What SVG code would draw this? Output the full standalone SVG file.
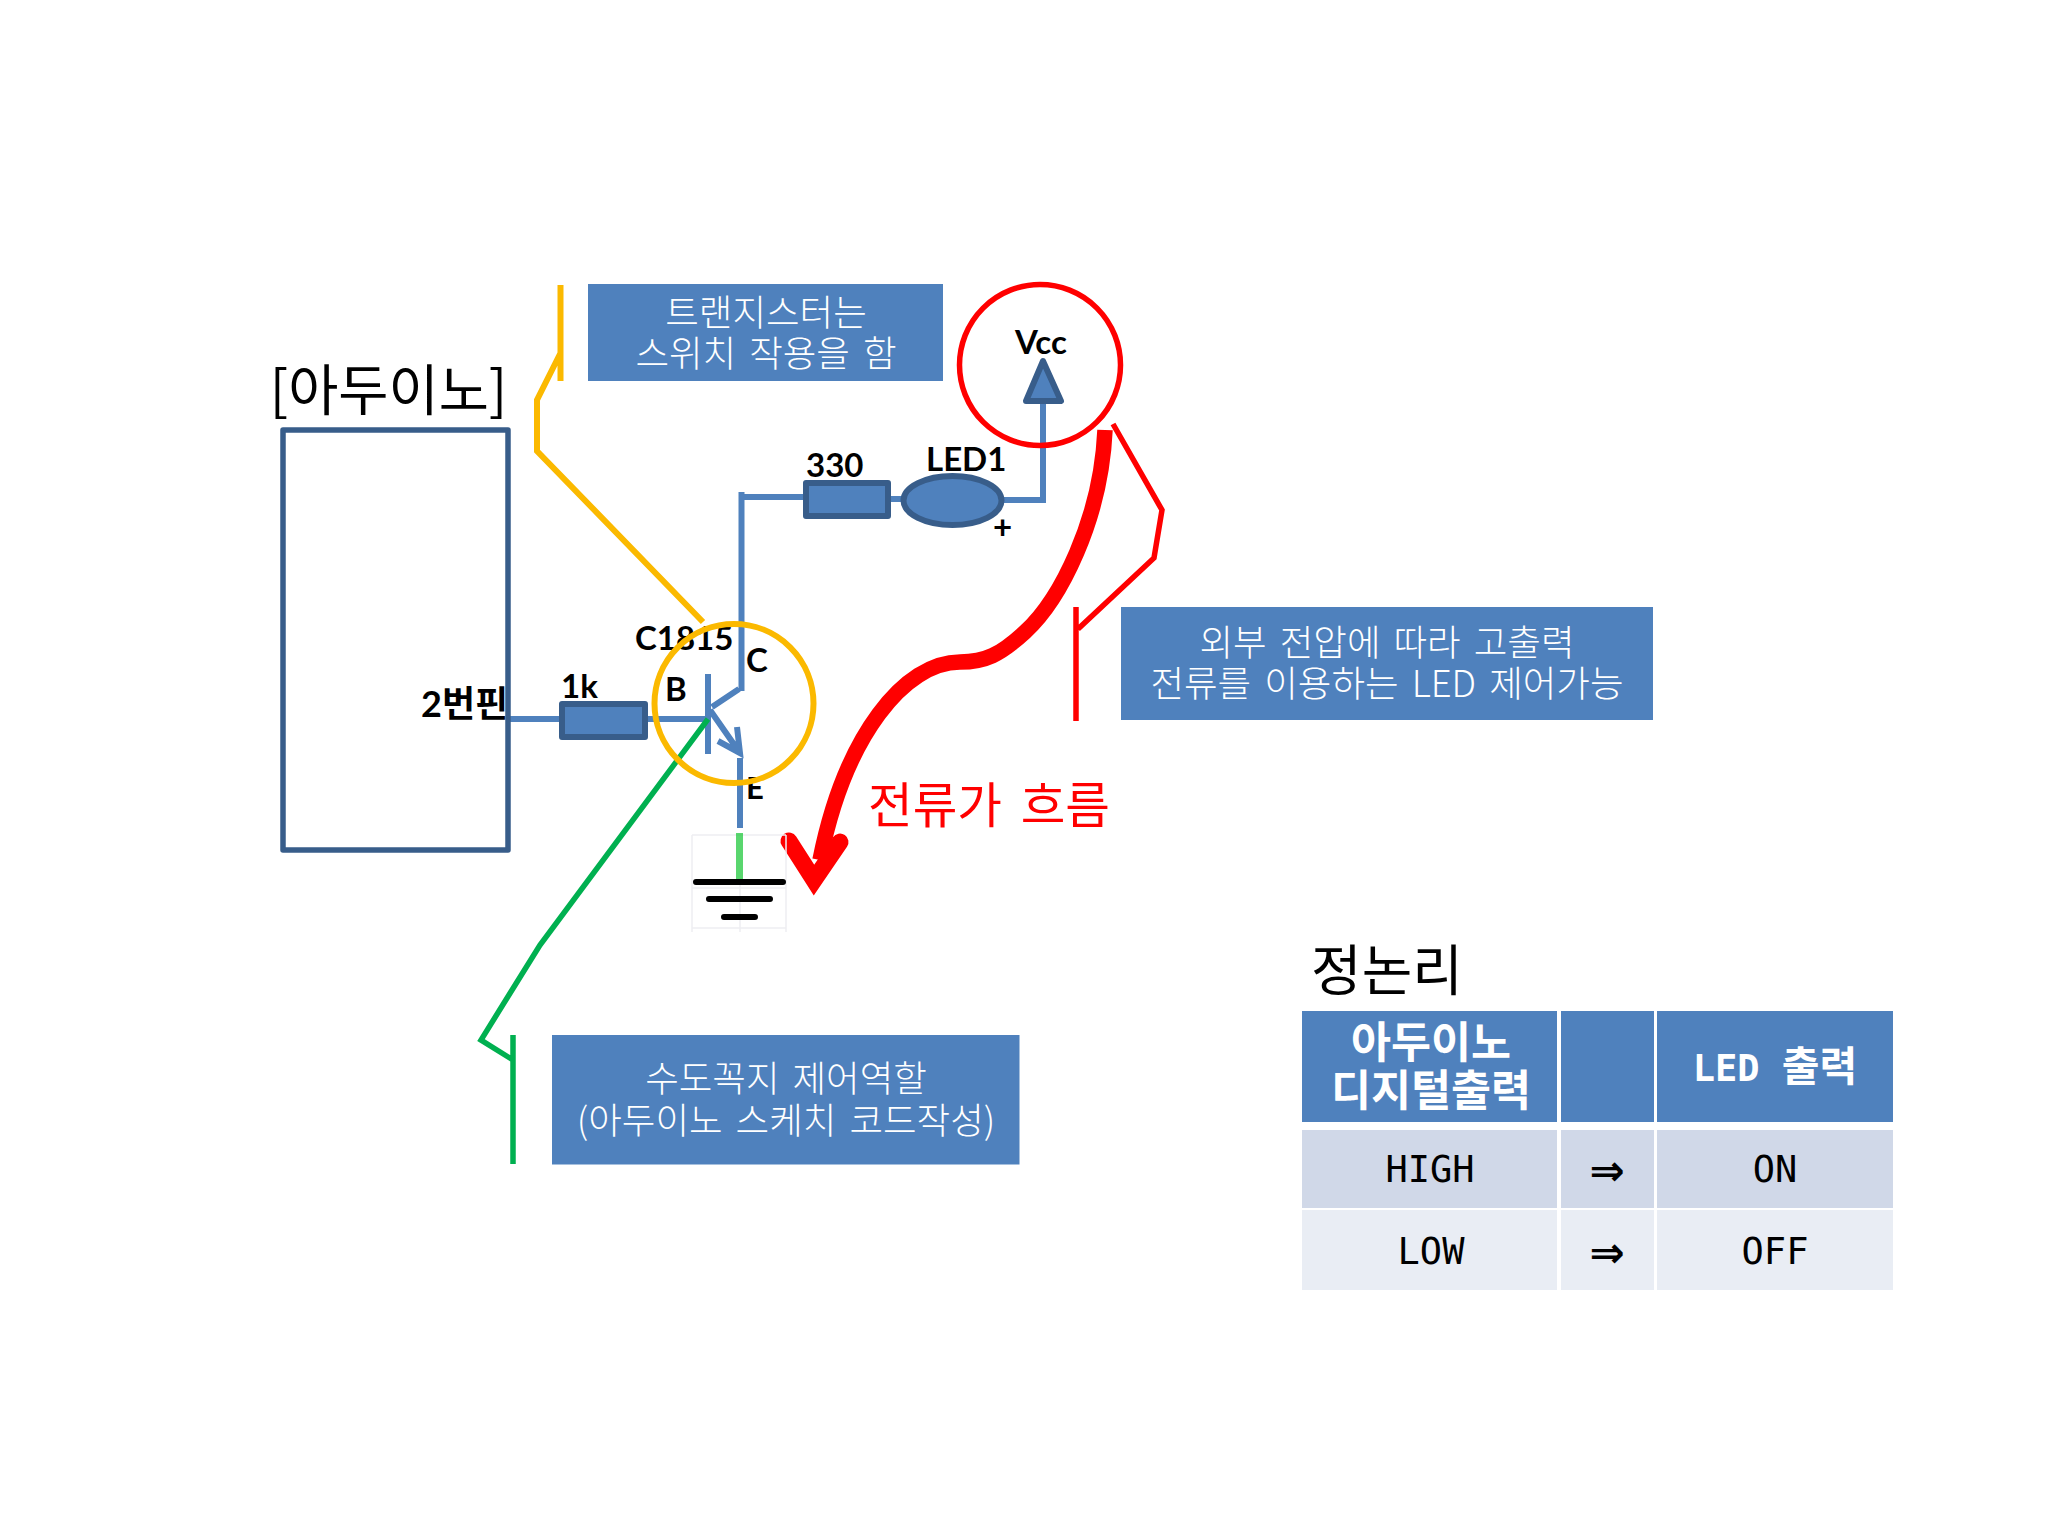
<svg xmlns="http://www.w3.org/2000/svg" width="2048" height="1536" viewBox="0 0 2048 1536">
<style>
.ko{font-family:"Noto Sans CJK KR","Noto Sans",sans-serif}
.box{fill:#4f81bd}
.boxt{font-family:"Noto Sans CJK KR",sans-serif;font-size:36.500px;fill:#fff;text-anchor:middle;font-weight:300;word-spacing:5px}
.lab{font-family:Lato,"Noto Sans CJK KR",sans-serif;font-weight:700;font-size:33px;fill:#000}
.wire{fill:none;stroke:#4f81bd;stroke-width:6}
.part{fill:#4f81bd;stroke:#385d8a;stroke-width:6;stroke-linejoin:round}
.y{fill:none;stroke:#fbb900;stroke-width:6}
.r{fill:none;stroke:#f00;stroke-width:5.500}
.g{fill:none;stroke:#00b050;stroke-width:5.500}
.hd{fill:#4f81bd}.r1{fill:#d0d8e8}.r2{fill:#e9edf4}
.tb{font-family:"DejaVu Sans Mono","Noto Sans CJK KR",monospace;font-size:37px;fill:#000;text-anchor:middle}
.ar{font-family:"DejaVu Sans",sans-serif;font-weight:700;font-size:42px;fill:#000;text-anchor:middle}
.th{font-family:"Noto Sans CJK KR",sans-serif;font-weight:700;font-size:43.500px;fill:#fff;text-anchor:middle}
.gnd{stroke:#000;stroke-width:6;stroke-linecap:round;fill:none}
</style>
<rect width="2048" height="1536" fill="#fff"/>
<g id="connectors">
<path class="wire" d="M510 719H708M708 674V754M712 707L739 689M741.500 691V492M739 497H806M887 499H905M1002 500H1040M1043 503V400"/>
<path class="wire" d="M710 710L740 753M718 741L740 753L737 727"/>
<path class="wire" d="M740 758V828"/>
<path class="y" d="M560.500 285V381M560.500 353L537 400V451L703 622"/>
<path class="r" d="M1113 424L1162 510L1154 558L1078 629M1076 607V721"/>
<path class="g" d="M513 1035V1164M513 1060L481 1040L540 945L708 719"/>
<path fill="none" stroke="#f00" stroke-width="15.500" d="M1105 430C1101 520 1060 600 1025 632C1000 655 985 662 960 662C905 662 845 735 820 860"/>
<path fill="none" stroke="#f00" stroke-width="17" stroke-linecap="round" stroke-linejoin="miter" stroke-miterlimit="8" d="M789 841L814 880L840 842"/>
</g>
<g id="arduino">
<rect x="283" y="430" width="225" height="420" fill="#fff" stroke="#385d8a" stroke-width="5.500" stroke-linejoin="round"/>
<text class="ko" x="388.500" y="410" font-size="54.500" text-anchor="middle" fill="#000">[아두이노]</text>
<text class="lab" x="421" y="717" style="font-size:36px">2번핀</text>
</g>
<g id="r1k">
<rect class="part" x="562" y="704" width="83" height="33"/>
<text class="lab" x="561" y="698">1k</text>
</g>
<g id="transistor">
<text class="lab" x="635" y="650">C1815</text>
<text class="lab" x="746" y="672">C</text>
<text class="lab" x="665" y="701">B</text>
<text class="lab" x="746" y="799" style="font-size:31px">E</text>
<circle class="y" cx="734" cy="703.500" r="79.500"/>
</g>
<g id="ground">
<path fill="none" stroke="#eeeef2" stroke-width="1.500" d="M692 835H786M692 888H786M692 928H786M692 835V932M740 880V932M786 835V932"/>
<path fill="none" stroke="#00c020" stroke-opacity=".65" stroke-width="7" d="M739.500 833V882"/>
<path class="gnd" d="M696 882H783M709 899H770M724 917H755"/>
</g>
<g id="r330">
<rect class="part" x="806" y="483" width="82" height="33"/>
<text class="lab" x="806" y="477">330</text>
</g>
<g id="led1">
<ellipse class="part" cx="952.500" cy="500.500" rx="49" ry="24.500"/>
<text class="lab" x="926" y="471">LED1</text>
<text class="lab" x="993" y="539">+</text>
</g>
<g id="vcc">
<circle class="r" cx="1040" cy="365" r="80.500"/>
<path class="part" d="M1043 361L1061 401H1026Z"/>
<text class="lab" x="1015" y="354">Vcc</text>
</g>
<g id="note-switch">
<rect class="box" x="588" y="284" width="355" height="97"/>
<text class="boxt" x="766" y="326">트랜지스터는</text>
<text class="boxt" x="766" y="367">스위치 작용을 함</text>
</g>
<g id="note-led">
<rect class="box" x="1121" y="607" width="532" height="113"/>
<text class="boxt" x="1387" y="656">외부 전압에 따라 고출력</text>
<text class="boxt" x="1387" y="697">전류를 이용하는 LED 제어가능</text>
</g>
<g id="note-tap">
<rect class="box" x="552" y="1035" width="467.500" height="129.500"/>
<text class="boxt" x="786" y="1092">수도꼭지 제어역할</text>
<text class="boxt" x="786" y="1134">(아두이노 스케치 코드작성)</text>
</g>
<g id="current-label">
<text class="ko" x="989" y="823" font-size="48.500" text-anchor="middle" fill="#f00" word-spacing="8">전류가 흐름</text>
</g>
<g id="logic-table">
<text class="ko" x="1387" y="990" font-size="55" text-anchor="middle" fill="#000">정논리</text>
<rect class="hd" x="1302" y="1011" width="255" height="111"/>
<rect class="hd" x="1561" y="1011" width="93" height="111"/>
<rect class="hd" x="1657" y="1011" width="236" height="111"/>
<rect class="r1" x="1302" y="1130" width="255" height="78"/>
<rect class="r1" x="1561" y="1130" width="93" height="78"/>
<rect class="r1" x="1657" y="1130" width="236" height="78"/>
<rect class="r2" x="1302" y="1210" width="255" height="80"/>
<rect class="r2" x="1561" y="1210" width="93" height="80"/>
<rect class="r2" x="1657" y="1210" width="236" height="80"/>
<text class="th" x="1431" y="1058">아두이노</text>
<text class="th" x="1431" y="1106">디지털출력</text>
<text class="th" x="1775" y="1081"><tspan style="font-family:'DejaVu Sans Mono',monospace;font-size:37px;font-weight:700">LED  </tspan><tspan style="font-size:41px">출력</tspan></text>
<text class="tb" x="1430" y="1182">HIGH</text>
<text class="ar" x="1607" y="1185">⇒</text>
<text class="tb" x="1775" y="1182">ON</text>
<text class="tb" x="1431" y="1264">LOW</text>
<text class="ar" x="1607" y="1267">⇒</text>
<text class="tb" x="1775" y="1264">OFF</text>
</g>
</svg>
